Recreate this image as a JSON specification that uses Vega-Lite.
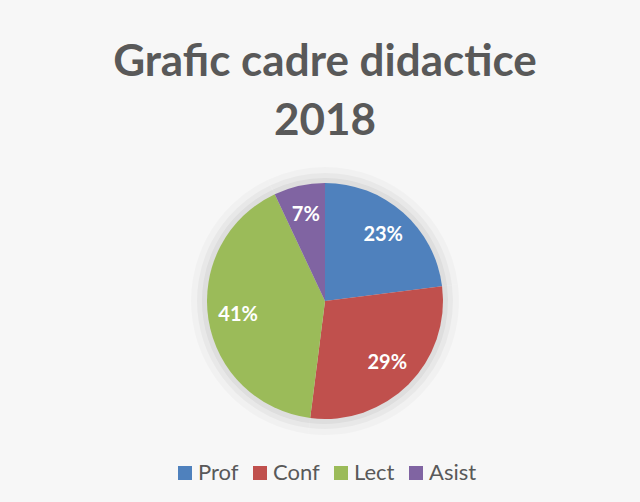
{
  "$schema": "https://vega.github.io/schema/vega-lite/v6.json",
  "width": 640,
  "height": 502,
  "autosize": {"type": "fit", "contains": "padding"},
  "padding": {"left": 10, "top": 41, "right": 0, "bottom": 18},
  "background": "#f7f7f7",
  "title": {
    "text": ["Grafic cadre didactice", "2018"],
    "font": "Lato",
    "fontSize": 44,
    "fontWeight": "bold",
    "color": "#595959",
    "lineHeight": 59,
    "anchor": "middle",
    "offset": 10
  },
  "config": {
    "legend": {"layout": {"bottom": {"anchor": "middle"}}}
  },
  "data": {
    "values": [
      {"cat": "Prof", "idx": 1, "share": 0.23},
      {"cat": "Conf", "idx": 2, "share": 0.29},
      {"cat": "Lect", "idx": 3, "share": 0.41},
      {"cat": "Asist", "idx": 4, "share": 0.07}
    ]
  },
  "encoding": {
    "theta": {"field": "share", "type": "quantitative", "stack": true},
    "order": {"field": "idx", "type": "quantitative"}
  },
  "layer": [
    {"mark": {"type": "arc", "outerRadius": 134, "fill": "#000000", "opacity": 0.025, "stroke": null}},
    {"mark": {"type": "arc", "outerRadius": 128, "fill": "#000000", "opacity": 0.035, "stroke": null}},
    {"mark": {"type": "arc", "outerRadius": 123, "fill": "#000000", "opacity": 0.045, "stroke": null}},
    {
      "mark": {"type": "arc", "outerRadius": 118, "stroke": null},
      "encoding": {
        "color": {
          "field": "cat",
          "type": "nominal",
          "scale": {"domain": ["Prof", "Conf", "Lect", "Asist"], "range": ["#4F81BD", "#C0504D", "#9BBB59", "#8064A2"]},
          "legend": {
            "orient": "bottom",
            "direction": "horizontal",
            "title": null,
            "symbolType": "square",
            "symbolSize": 196,
            "symbolStrokeWidth": 0,
            "labelFont": "Lato",
            "labelFontSize": 22,
            "labelColor": "#595959",
            "labelOffset": 2,
            "columnPadding": 10,
            "offset": 14
          }
        }
      }
    },
    {
      "mark": {"type": "text", "radius": 88, "font": "Lato", "fontSize": 20, "fontWeight": "bold", "fill": "#ffffff"},
      "encoding": {
        "text": {"field": "share", "type": "quantitative", "format": ".0%"}
      }
    }
  ]
}
